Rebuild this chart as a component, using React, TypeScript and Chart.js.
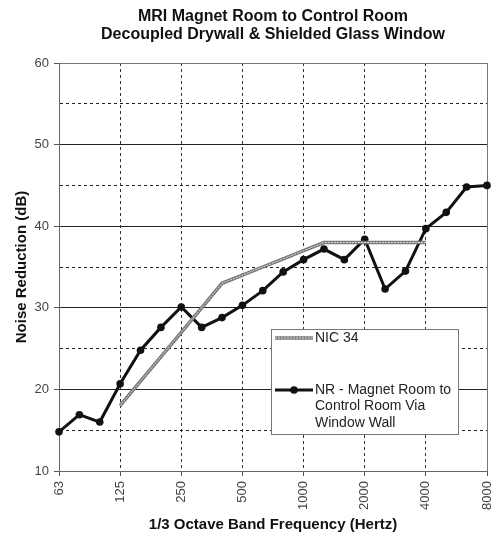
import React, { useEffect, useRef } from 'react';
import { Chart, registerables } from 'chart.js';

Chart.register(...registerables);

// ---- data ----
const bands = ['63', '80', '100', '125', '160', '200', '250', '315', '400', '500', '630', '800', '1000', '1250', '1600', '2000', '2500', '3150', '4000', '5000', '6300', '8000'];
const labeledBands = ['63', '125', '250', '500', '1000', '2000', '4000', '8000'];
const nic34 = [null, null, null, 18, 21, 24, 27, 30, 33, 34, 35, 36, 37, 38, 38, 38, 38, 38, 38, null, null, null];
const nrWindowWall = [14.8, 16.9, 16.0, 20.7, 24.8, 27.6, 30.1, 27.6, 28.8, 30.3, 32.1, 34.4, 35.9, 37.2, 35.9, 38.4, 32.3, 34.5, 39.7, 41.7, 44.8, 45.0];
const yMin = 10;
const yMax = 60;
const yStep = 5;
const yLabelEvery = 10;
const titleLines = ['MRI Magnet Room to Control Room', 'Decoupled Drywall & Shielded Glass Window'];
const yTitle = 'Noise Reduction (dB)';
const xTitle = '1/3 Octave Band Frequency (Hertz)';
const nicLegend = ['NIC 34'];
const nrLegend = ['NR - Magnet Room to', 'Control Room Via', 'Window Wall'];

const FONT = '"Liberation Sans", Arial, Helvetica, sans-serif';

function drawNicSample(ctx: CanvasRenderingContext2D, x0: number, y: number, x1: number) {
  ctx.save();
  ctx.lineCap = 'butt';
  ctx.strokeStyle = '#777';
  ctx.lineWidth = 3.5;
  ctx.beginPath();
  ctx.moveTo(x0, y);
  ctx.lineTo(x1, y);
  ctx.stroke();
  ctx.strokeStyle = '#e2e2e2';
  ctx.lineWidth = 1;
  ctx.setLineDash([2, 1]);
  ctx.beginPath();
  ctx.moveTo(x0, y);
  ctx.lineTo(x1, y);
  ctx.stroke();
  ctx.restore();
}

const insideLegend = {
  id: 'insideLegend',
  afterDatasetsDraw(chart: any) {
    const { ctx, chartArea: ca } = chart;
    const x = Math.round(ca.left + 212);
    const y = Math.round(ca.top + 266);
    const w = 187;
    const h = 105;
    ctx.save();
    ctx.fillStyle = '#ffffff';
    ctx.fillRect(x, y, w, h);
    ctx.strokeStyle = '#777';
    ctx.lineWidth = 1;
    ctx.strokeRect(x + 0.5, y + 0.5, w, h);

    const sx0 = x + 4;
    const sx1 = x + 42;
    const tx = x + 44;
    ctx.font = `14px ${FONT}`;
    ctx.fillStyle = '#222';
    ctx.textAlign = 'left';
    ctx.textBaseline = 'middle';

    let ly = y + 9;
    drawNicSample(ctx, sx0, ly, sx1);
    nicLegend.forEach((t, i) => ctx.fillText(t, tx, ly + i * 16.5));

    ly = y + 61;
    ctx.strokeStyle = '#111';
    ctx.lineWidth = 3;
    ctx.beginPath();
    ctx.moveTo(sx0, ly);
    ctx.lineTo(sx1, ly);
    ctx.stroke();
    ctx.fillStyle = '#111';
    ctx.beginPath();
    ctx.arc((sx0 + sx1) / 2, ly, 3.8, 0, Math.PI * 2);
    ctx.fill();
    ctx.fillStyle = '#222';
    nrLegend.forEach((t, i) => ctx.fillText(t, tx, ly + i * 16.5));
    ctx.restore();
  },
};

export default function App() {
  const ref = useRef<HTMLCanvasElement | null>(null);

  useEffect(() => {
    document.body.style.margin = '0';
    const canvas = ref.current;
    if (!canvas) return;
    Chart.defaults.font.family = FONT;

    const chart = new Chart(canvas, {
      type: 'line',
      data: {
        labels: bands,
        datasets: [
          {
            label: 'NIC 34 inner',
            data: nic34,
            borderColor: '#e2e2e2',
            borderWidth: 1,
            borderDash: [2, 1],
            pointRadius: 0,
            tension: 0,
            fill: false,
          },
          {
            label: 'NIC 34',
            data: nic34,
            borderColor: '#777',
            borderWidth: 3.5,
            pointRadius: 0,
            tension: 0,
            fill: false,
          },
          {
            label: 'NR - Magnet Room to Control Room Via Window Wall',
            data: nrWindowWall,
            borderColor: '#111',
            backgroundColor: '#111',
            borderWidth: 3,
            pointRadius: 3.8,
            pointBackgroundColor: '#111',
            pointBorderColor: '#111',
            pointBorderWidth: 0,
            tension: 0,
            fill: false,
            clip: false,
          },
        ],
      },
      options: {
        animation: false,
        responsive: false,
        devicePixelRatio: 1,
        layout: { padding: { left: 0, right: 2, top: 0, bottom: 0 } },
        plugins: {
          legend: { display: false },
          tooltip: { enabled: false },
          title: {
            display: true,
            text: titleLines,
            fullSize: false,
            color: '#111',
            font: { size: 16, weight: 'bold', lineHeight: 1.125 },
            padding: { top: 7.5, bottom: 19.5 },
          },
        },
        scales: {
          x: {
            type: 'category',
            offset: false,
            afterFit: (s: any) => {
              s.height = 67;
              s.paddingLeft = 0;
              s.paddingRight = 0;
            },
            grid: {
              color: (c: any) => (c.index === bands.length - 1 ? '#777' : labeledBands.includes(bands[c.index]) ? '#333' : 'rgba(0,0,0,0)'),
              tickColor: (c: any) => (labeledBands.includes(bands[c.index]) ? '#555' : 'rgba(0,0,0,0)'),
              lineWidth: 1,
              tickLength: 5,
              drawTicks: true,
            },
            border: {
              display: true,
              color: '#666',
              width: 1,
              dash: (c: any) => (c.index === bands.length - 1 || c.index === undefined ? [] : [3, 3]),
            },
            ticks: {
              autoSkip: false,
              maxRotation: 90,
              minRotation: 90,
              padding: 5,
              color: '#444',
              font: { size: 13 },
              callback: (_v: any, i: number) => (labeledBands.includes(bands[i]) ? bands[i] : ''),
            },
            title: {
              display: true,
              text: xTitle,
              color: '#111',
              font: { size: 15, weight: 'bold', lineHeight: 1.2 },
              padding: { top: 0, bottom: 4 },
            },
          },
          y: {
            min: yMin,
            max: yMax,
            afterFit: (s: any) => {
              s.width = 59;
              s.paddingTop = 0;
              s.paddingBottom = 0;
            },
            grid: {
              color: (c: any) => {
                const v = c.tick ? c.tick.value : 0;
                if (v === yMax) return '#777';
                return '#222';
              },
              tickColor: (c: any) => (c.tick && c.tick.value % yLabelEvery === 0 ? '#555' : 'rgba(0,0,0,0)'),
              lineWidth: 1,
              tickLength: 5,
            },
            border: {
              display: true,
              color: '#666',
              width: 1,
              dash: (c: any) => (c.tick && c.tick.value % yLabelEvery !== 0 ? [3, 3] : []),
            },
            ticks: {
              stepSize: yStep,
              padding: 5,
              color: '#444',
              font: { size: 13 },
              callback: (v: any) => (Number(v) % yLabelEvery === 0 ? String(v) : ''),
            },
            title: {
              display: true,
              text: yTitle,
              color: '#111',
              font: { size: 15, weight: 'bold', lineHeight: 1.2 },
              padding: { top: 13, bottom: 0 },
            },
          },
        },
      },
      plugins: [insideLegend],
    } as any);

    return () => chart.destroy();
  }, []);

  return (
    <div style={{ width: 491, height: 538 }}>
      <canvas ref={ref} width={491} height={538} style={{ display: 'block' }} />
    </div>
  );
}
